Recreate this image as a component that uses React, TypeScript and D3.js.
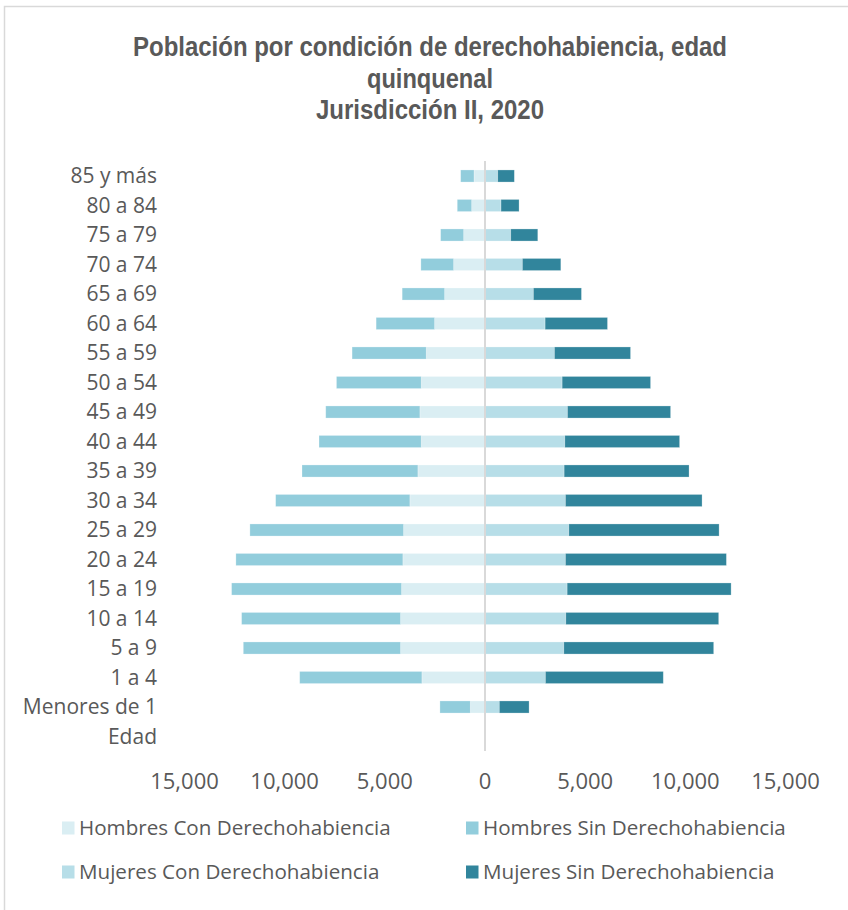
import React from "react";
import * as d3 from "d3";

// age groups, youngest first (Excel draws the first one at the bottom)
const ageGroups = [
  "Edad",
  "Menores de 1",
  "1 a 4",
  "5 a 9",
  "10 a 14",
  "15 a 19",
  "20 a 24",
  "25 a 29",
  "30 a 34",
  "35 a 39",
  "40 a 44",
  "45 a 49",
  "50 a 54",
  "55 a 59",
  "60 a 64",
  "65 a 69",
  "70 a 74",
  "75 a 79",
  "80 a 84",
  "85 y más",
];

const hombresCon = [0, 735, 3150, 4215, 4215, 4165, 4100, 4065, 3750, 3350, 3185, 3250, 3185, 2935, 2515, 2015, 1565, 1065, 665, 550];
const hombresSin = [0, 1515, 6100, 7850, 7935, 8485, 8335, 7670, 6700, 5785, 5100, 4700, 4230, 3700, 2920, 2120, 1635, 1150, 720, 665];
const mujeresCon = [0, 715, 3015, 3935, 4035, 4100, 4015, 4185, 4015, 3950, 3985, 4115, 3850, 3465, 3000, 2415, 1865, 1285, 800, 635];
const mujeresSin = [0, 1485, 5885, 7480, 7630, 8185, 8035, 7500, 6820, 6235, 5730, 5150, 4415, 3800, 3115, 2400, 1920, 1350, 900, 830];

const xTicks = [-15000, -10000, -5000, 0, 5000, 10000, 15000];

const titleLines = [
  "Población por condición de derechohabiencia, edad",
  "quinquenal",
  "Jurisdicción II, 2020",
];
// rendered widths of the (narrow) title lines
const titleWidths = [594, 126, 228];

const seriesNames = [
  "Hombres Con Derechohabiencia",
  "Hombres Sin Derechohabiencia",
  "Mujeres Con Derechohabiencia",
  "Mujeres Sin Derechohabiencia",
];
const seriesColors = ["#DAEEF3", "#92CDDC", "#B7DEE8", "#31859C"];

const W = 848;
const H = 910;
const textColor = "#595959";
const bodyFont = "'Open Sans', 'Noto Sans', sans-serif";
const titleFont = "'Liberation Sans Narrow', 'Arial Narrow', 'Liberation Sans', sans-serif";

export default function App() {
  const x = d3.scaleLinear().domain([-15000, 15000]).range([184.5, 785.5]);
  const y = d3
    .scaleBand<string>()
    .domain([...ageGroups].reverse())
    .range([161.25, 751.25])
    .paddingInner(0.59)
    .paddingOuter(0.295);
  const bw = y.bandwidth();
  const fmt = d3.format(",");

  // stacked segments: hombres to the left (negative), mujeres to the right
  const rows = ageGroups.map((g, i) => ({
    g,
    segs: [
      { x0: -hombresCon[i], x1: 0, c: seriesColors[0] },
      { x0: -(hombresCon[i] + hombresSin[i]), x1: -hombresCon[i], c: seriesColors[1] },
      { x0: 0, x1: mujeresCon[i], c: seriesColors[2] },
      { x0: mujeresCon[i], x1: mujeresCon[i] + mujeresSin[i], c: seriesColors[3] },
    ],
  }));

  const legendPos = [
    { sx: 62, y: 828 },
    { sx: 466, y: 828 },
    { sx: 62, y: 872 },
    { sx: 466, y: 872 },
  ];

  return (
    <svg
      width={W}
      height={H}
      style={{ position: "absolute", left: 0, top: 0, background: "#fff" }}
    >
      <rect x={4.5} y={6.5} width={W + 20} height={H + 20} fill="#fff" stroke="#d9d9d9" strokeWidth={1.5} />

      <g fill={textColor} fontFamily={titleFont} fontWeight="bold" fontSize={27} textAnchor="middle">
        {titleLines.map((t, i) => (
          <text
            key={i}
            x={430}
            y={56 + i * 31.5}
            textLength={titleWidths[i]}
            lengthAdjust="spacingAndGlyphs"
          >
            {t}
          </text>
        ))}
      </g>

      {/* category labels */}
      <g fill={textColor} fontFamily={bodyFont} fontSize={21} textAnchor="end">
        {ageGroups.map((g) => (
          <text key={g} x={157} y={(y(g) ?? 0) + bw / 2} dy="0.35em">
            {g}
          </text>
        ))}
      </g>

      {/* bars */}
      {rows.map((r) => (
        <g key={r.g}>
          {r.segs.map((s, j) =>
            s.x1 - s.x0 > 0 ? (
              <rect
                key={j}
                x={x(s.x0)}
                y={y(r.g)}
                width={x(s.x1) - x(s.x0)}
                height={bw}
                fill={s.c}
                stroke="#ffffff"
                strokeOpacity={0.35}
                strokeWidth={0.75}
              />
            ) : null
          )}
        </g>
      ))}

      {/* vertical axis at zero */}
      <line x1={x(0)} x2={x(0)} y1={161} y2={751} stroke="#d9d9d9" strokeWidth={2} />

      {/* x tick labels */}
      <g fill={textColor} fontFamily={bodyFont} fontSize={22} textAnchor="middle">
        {xTicks.map((t) => (
          <text key={t} x={x(t)} y={781} dy="0.35em">
            {fmt(Math.abs(t))}
          </text>
        ))}
      </g>

      {/* legend */}
      <g fontFamily={bodyFont} fontSize={20.6} fill={textColor}>
        {seriesNames.map((n, i) => (
          <g key={n}>
            <rect x={legendPos[i].sx} y={legendPos[i].y - 6.5} width={12.5} height={13} fill={seriesColors[i]} />
            <text x={legendPos[i].sx + 17} y={legendPos[i].y} dy="0.35em">
              {n}
            </text>
          </g>
        ))}
      </g>
    </svg>
  );
}
